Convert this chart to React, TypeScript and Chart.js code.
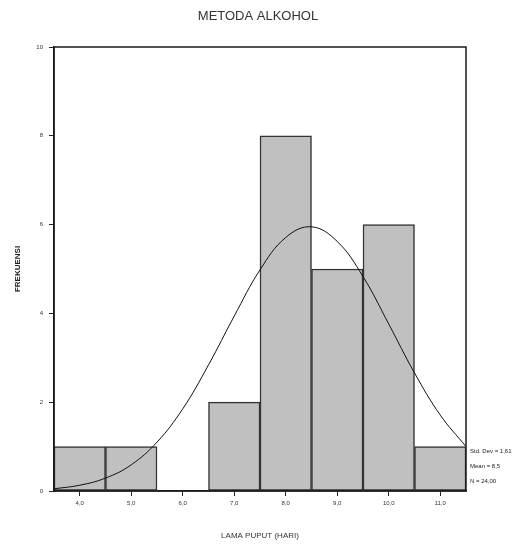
import React, { useEffect, useRef } from "react";
import { Chart, registerables } from "chart.js";

Chart.register(...registerables);

const chartTitle = "METODA ALKOHOL";
const xTitle = "LAMA PUPUT (HARI)";
const yTitle = "FREKUENSI";
const categories = [4, 5, 6, 7, 8, 9, 10, 11];
const frequencies = [1, 1, 0, 2, 8, 5, 6, 1];
const curveX = [3.5, 4, 4.5, 5, 5.5, 6, 6.5, 7, 7.5, 8, 8.5, 9, 9.5, 10, 10.5, 11, 11.5];
const curveY = [0.05, 0.13, 0.29, 0.59, 1.1, 1.85, 2.84, 3.94, 4.98, 5.71, 5.95, 5.62, 4.83, 3.76, 2.66, 1.71, 1.0];
const yTicks = [0, 2, 4, 6, 8, 10];
const statsLabels = ["Std. Dev = 1,61", "Mean = 8,5", "N = 24,00"];

const FONT = "'Liberation Sans', Arial, sans-serif";

const decorPlugin = {
  id: "decor",
  afterDatasetsDraw(chart: any) {
    const { ctx, chartArea } = chart;
    ctx.save();
    ctx.strokeStyle = "#1a1a1a";
    ctx.lineWidth = 1.5;
    ctx.strokeRect(chartArea.left, chartArea.top, chartArea.right - chartArea.left, chartArea.bottom - chartArea.top);
    ctx.restore();
  },
  afterDraw(chart: any) {
    const { ctx, chartArea } = chart;
    ctx.save();
    ctx.fillStyle = "#333";
    ctx.font = `13px ${FONT}`;
    ctx.textAlign = "center";
    ctx.textBaseline = "middle";
    ctx.fillText(chartTitle, chart.width / 2, 16);
    ctx.font = `6px ${FONT}`;
    ctx.textAlign = "left";
    ctx.fillStyle = "#222";
    statsLabels.forEach((s, i) => {
      ctx.fillText(s, chartArea.right + 4, chartArea.bottom - 40 + i * 15);
    });
    ctx.restore();
  },
};

export default function App() {
  const ref = useRef<HTMLCanvasElement | null>(null);
  useEffect(() => {
    if (!ref.current) return;
    const chart = new Chart(ref.current, {
      type: "bar",
      data: {
        datasets: [
          {
            type: "line",
            data: curveX.map((x, i) => ({ x, y: curveY[i] })),
            borderColor: "#111",
            borderWidth: 1,
            pointRadius: 0,
            tension: 0.4,
            fill: false,
            order: 0,
          } as any,
          {
            type: "bar",
            data: categories.map((x, i) => ({ x, y: frequencies[i] })),
            backgroundColor: "#c0c0c0",
            borderColor: "#333",
            borderWidth: 1.5,
            borderSkipped: false,
            barPercentage: 1,
            categoryPercentage: 1,
            grouped: false,
            order: 1,
          } as any,
        ],
      },
      options: {
        responsive: false,
        animation: false,
        layout: { padding: { top: 47, right: 50, left: 0, bottom: 0 } },
        plugins: { legend: { display: false }, tooltip: { enabled: false }, title: { display: false } },
        scales: {
          x: {
            type: "linear",
            min: 3.5,
            max: 11.5,
            offset: false,
            afterFit: (s: any) => {
              s.height = 53;
            },
            afterBuildTicks: (s: any) => {
              s.ticks = categories.map((v) => ({ value: v }));
            },
            grid: { display: true, drawOnChartArea: false, drawTicks: true, tickLength: 5, color: "#222", offset: false },
            border: { display: true, color: "#1a1a1a", width: 1.5 },
            ticks: {
              font: { size: 6, family: FONT },
              color: "#333",
              padding: 4,
              maxRotation: 0,
              autoSkip: false,
              callback: (v: any) => Number(v).toFixed(1).replace(".", ","),
            },
            title: {
              display: true,
              text: xTitle,
              font: { size: 8, family: FONT },
              color: "#333",
              padding: { top: 0, bottom: 3 },
            },
          },
          y: {
            type: "linear",
            min: 0,
            max: 10,
            afterFit: (s: any) => {
              s.width = 54;
            },
            afterBuildTicks: (s: any) => {
              s.ticks = yTicks.map((v) => ({ value: v }));
            },
            grid: { display: true, drawOnChartArea: false, drawTicks: true, tickLength: 5, color: "#222" },
            border: { display: true, color: "#1a1a1a", width: 1.5 },
            ticks: {
              font: { size: 6, family: FONT },
              color: "#333",
              padding: 6,
              callback: (v: any) => String(v),
            },
            title: {
              display: true,
              text: yTitle,
              font: { size: 8, family: FONT, weight: "bold" },
              color: "#222",
              padding: { top: 13, bottom: 0 },
            },
          },
        },
      } as any,
      plugins: [decorPlugin],
    });
    return () => chart.destroy();
  }, []);
  return (
    <canvas
      ref={ref}
      width={516}
      height={544}
      style={{ position: "absolute", left: 0, top: 0, width: 516, height: 544, display: "block" }}
    />
  );
}
